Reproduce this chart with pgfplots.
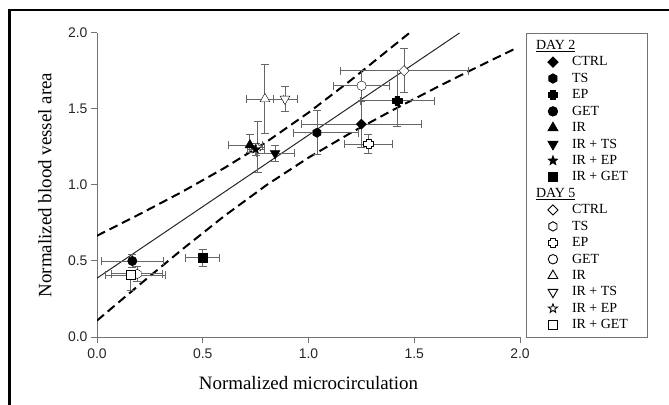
\documentclass[border=0pt]{standalone}
\usepackage{fontspec}
\setmainfont{Liberation Serif}
\newfontfamily\arial{Liberation Sans}
\usepackage{pgfplots}
\pgfplotsset{compat=1.18}

\pgfdeclareplotmark{hexagon}{%
 \pgfpathmoveto{\pgfpointpolar{90}{\pgfplotmarksize}}%
 \pgfpathlineto{\pgfpointpolar{150}{\pgfplotmarksize}}%
 \pgfpathlineto{\pgfpointpolar{210}{\pgfplotmarksize}}%
 \pgfpathlineto{\pgfpointpolar{270}{\pgfplotmarksize}}%
 \pgfpathlineto{\pgfpointpolar{330}{\pgfplotmarksize}}%
 \pgfpathlineto{\pgfpointpolar{30}{\pgfplotmarksize}}%
 \pgfpathclose\pgfusepathqfillstroke}
\pgfdeclareplotmark{fstar}{%
 \pgfpathmoveto{\pgfpointpolar{90}{\pgfplotmarksize}}%
 \pgfpathlineto{\pgfpointpolar{126}{0.42\pgfplotmarksize}}%
 \pgfpathlineto{\pgfpointpolar{162}{\pgfplotmarksize}}%
 \pgfpathlineto{\pgfpointpolar{198}{0.42\pgfplotmarksize}}%
 \pgfpathlineto{\pgfpointpolar{234}{\pgfplotmarksize}}%
 \pgfpathlineto{\pgfpointpolar{270}{0.42\pgfplotmarksize}}%
 \pgfpathlineto{\pgfpointpolar{306}{\pgfplotmarksize}}%
 \pgfpathlineto{\pgfpointpolar{342}{0.42\pgfplotmarksize}}%
 \pgfpathlineto{\pgfpointpolar{18}{\pgfplotmarksize}}%
 \pgfpathlineto{\pgfpointpolar{54}{0.42\pgfplotmarksize}}%
 \pgfpathclose\pgfusepathqfillstroke}
\pgfdeclareplotmark{fcross}{%
 \pgfpathmoveto{\pgfpoint{0.5\pgfplotmarksize}{\pgfplotmarksize}}%
 \pgfpathlineto{\pgfpoint{0.5\pgfplotmarksize}{0.5\pgfplotmarksize}}%
 \pgfpathlineto{\pgfpoint{\pgfplotmarksize}{0.5\pgfplotmarksize}}%
 \pgfpathlineto{\pgfpoint{\pgfplotmarksize}{-0.5\pgfplotmarksize}}%
 \pgfpathlineto{\pgfpoint{0.5\pgfplotmarksize}{-0.5\pgfplotmarksize}}%
 \pgfpathlineto{\pgfpoint{0.5\pgfplotmarksize}{-\pgfplotmarksize}}%
 \pgfpathlineto{\pgfpoint{-0.5\pgfplotmarksize}{-\pgfplotmarksize}}%
 \pgfpathlineto{\pgfpoint{-0.5\pgfplotmarksize}{-0.5\pgfplotmarksize}}%
 \pgfpathlineto{\pgfpoint{-\pgfplotmarksize}{-0.5\pgfplotmarksize}}%
 \pgfpathlineto{\pgfpoint{-\pgfplotmarksize}{0.5\pgfplotmarksize}}%
 \pgfpathlineto{\pgfpoint{-0.5\pgfplotmarksize}{0.5\pgfplotmarksize}}%
 \pgfpathlineto{\pgfpoint{-0.5\pgfplotmarksize}{\pgfplotmarksize}}%
 \pgfpathclose\pgfusepathqfillstroke}

\colorlet{ebc}{black!60}
\pgfplotsset{
  eb/.style={/pgfplots/error bars/x dir=both, /pgfplots/error bars/x explicit,
    /pgfplots/error bars/y dir=both, /pgfplots/error bars/y explicit,
    /pgfplots/error bars/error bar style={color=ebc, line width=0.9bp},
    /pgfplots/error bars/error mark options={rotate=90, color=ebc, mark size=4bp, line width=0.9bp}},
  dd/.style={only marks, black, mark size=4.7bp},
  dia/.style={mark=square*, mark size=3.6bp},
  tri/.style={mark=triangle*, mark size=5.6bp},
}

\begin{document}
\begin{tikzpicture}
\begin{axis}[
  at={(97bp,68bp)}, anchor=south west,
  scale only axis, width=423bp, height=304bp,
  xmin=0, xmax=2, ymin=0, ymax=2,
  xtick={0,0.5,1,1.5,2}, ytick={0,0.5,1,1.5,2},
  axis lines*=left,
  axis line style={draw=black!55, line width=1bp},
  tick style={draw=black!55, line width=1bp},
  tick align=outside, major tick length=6bp,
  ticklabel style={font=\arial\fontsize{14}{16}\selectfont, text=black!85},
  xticklabel style={yshift=-2bp},
  /pgf/number format/assume math mode=true,
  /pgf/number format/fixed, /pgf/number format/fixed zerofill, /pgf/number format/precision=1,
  xlabel={Normalized microcirculation},
  ylabel={Normalized blood vessel area},
  label style={font=\fontsize{19}{21}\selectfont},
  xlabel style={at={(axis description cs:0.5,-0.151)}, anchor=center},
  ylabel style={at={(axis description cs:-0.123,0.5)}, anchor=center},
  legend style={at={(rel axis cs:1,1)}, xshift=6bp, anchor=north west,
    draw=black!55, line width=0.9bp, font=\fontsize{14}{15}\selectfont,
    inner xsep=18bp, inner ysep=4bp, row sep=0bp,
    nodes={inner ysep=0pt, text height=12bp, text depth=4.43bp},
    /tikz/every odd column/.append style={column sep=12bp}},
  legend cell align=left,
]
% regression line and 95% band (read from picture)
\addplot[black!85, line width=1bp, forget plot] coordinates {(0,0.387) (1.714,2.0)};
\addplot[black, line width=2bp, dash pattern=on 9bp off 5bp, forget plot] coordinates {
 (0,0.666) (0.2,0.807) (0.4,0.953) (0.6,1.110) (0.8,1.282) (1.0,1.476) (1.2,1.689) (1.4,1.914) (1.477,2.0)};
\addplot[black, line width=2bp, dash pattern=on 9bp off 5bp, forget plot] coordinates {
 (0,0.108) (0.2,0.343) (0.4,0.573) (0.6,0.794) (0.8,0.998) (1.0,1.180) (1.2,1.343) (1.4,1.494) (1.6,1.638) (1.8,1.777) (1.98,1.899)};

% DAY 5 (open)
\addplot[dd, eb, dia, mark options={fill=white, rotate=45}, forget plot] coordinates {(1.452,1.752) +- (0.303,0.145)};
\addplot[dd, eb, mark=hexagon, mark options={fill=white}, forget plot] coordinates {(0.19,0.415) +- (0.12,0.05)};
\addplot[dd, eb, mark=fcross, mark options={fill=white, line join=round}, forget plot] coordinates {(1.283,1.27) +- (0.114,0.065)};
\addplot[dd, eb, mark=*, mark options={fill=white}, forget plot] coordinates {(1.251,1.653) +- (0.133,0.1)};
\addplot[dd, eb, tri, mark options={fill=white}, forget plot] coordinates {(0.794,1.566) +- (0.087,0.225)};
\addplot[dd, eb, tri, mark options={fill=white, rotate=180}, forget plot] coordinates {(0.889,1.566) +- (0.057,0.08)};
\addplot[dd, eb, mark=fstar, mark options={fill=white}, forget plot] coordinates {(0.76,1.25) +- (0.03,0.165)};
\addplot[dd, eb, mark=square*, mark options={fill=white}, forget plot] coordinates {(0.159,0.408) += (0.163,0.03) -= (0.121,0.1)};

% DAY 2 (filled)
\addplot[dd, eb, dia, mark options={fill=black, rotate=45}, forget plot] coordinates {(1.25,1.40) +- (0.284,0.15)};
\addplot[dd, eb, mark=hexagon, mark options={fill=black}, forget plot] coordinates {(1.04,1.344) += (0.195,0.146) -= (0.11,0.144)};
\addplot[dd, eb, mark=fcross, mark options={fill=black, line join=round}, forget plot] coordinates {(1.42,1.553) += (0.175,0.2) -= (0.175,0.17)};
\addplot[dd, eb, mark=*, mark options={fill=black}, forget plot] coordinates {(0.167,0.50) +- (0.145,0.04)};
\addplot[dd, eb, tri, mark options={fill=black}, forget plot] coordinates {(0.723,1.263) += (0.06,0.07) -= (0.1,0.05)};
\addplot[dd, eb, tri, mark options={fill=black, rotate=180}, forget plot] coordinates {(0.842,1.208) +- (0.09,0.05)};
\addplot[dd, eb, mark=fstar, mark options={fill=black}, forget plot] coordinates {(0.75,1.235) +- (0.04,0.04)};
\addplot[dd, eb, mark=square*, mark options={fill=black}, forget plot] coordinates {(0.50,0.522) +- (0.08,0.055)};

% legend
\addlegendimage{empty legend}\addlegendentry{\hspace*{-36bp}\underline{DAY 2}}
\addlegendimage{dd, dia, mark options={fill=black, rotate=45}}\addlegendentry{CTRL}
\addlegendimage{dd, mark=hexagon, mark options={fill=black}}\addlegendentry{TS}
\addlegendimage{dd, mark=fcross, mark options={fill=black, line join=round}}\addlegendentry{EP}
\addlegendimage{dd, mark=*, mark options={fill=black}}\addlegendentry{GET}
\addlegendimage{dd, tri, mark options={fill=black}}\addlegendentry{IR}
\addlegendimage{dd, tri, mark options={fill=black, rotate=180}}\addlegendentry{IR + TS}
\addlegendimage{dd, mark=fstar, mark options={fill=black}}\addlegendentry{IR + EP}
\addlegendimage{dd, mark=square*, mark options={fill=black}}\addlegendentry{IR + GET}
\addlegendimage{empty legend}\addlegendentry{\hspace*{-36bp}\underline{DAY 5}}
\addlegendimage{dd, dia, mark options={fill=white, rotate=45}}\addlegendentry{CTRL}
\addlegendimage{dd, mark=hexagon, mark options={fill=white}}\addlegendentry{TS}
\addlegendimage{dd, mark=fcross, mark options={fill=white, line join=round}}\addlegendentry{EP}
\addlegendimage{dd, mark=*, mark options={fill=white}}\addlegendentry{GET}
\addlegendimage{dd, tri, mark options={fill=white}}\addlegendentry{IR}
\addlegendimage{dd, tri, mark options={fill=white, rotate=180}}\addlegendentry{IR + TS}
\addlegendimage{dd, mark=fstar, mark options={fill=white}}\addlegendentry{IR + EP}
\addlegendimage{dd, mark=square*, mark options={fill=white}}\addlegendentry{IR + GET}
\end{axis}
\draw[black, line width=2.6bp] (9.5bp,0bp) -- (9.5bp,395bp) -- (669bp,395bp);
\pgfresetboundingbox
\useasboundingbox (0,0) rectangle (669bp,405bp);
\end{tikzpicture}
\end{document}
